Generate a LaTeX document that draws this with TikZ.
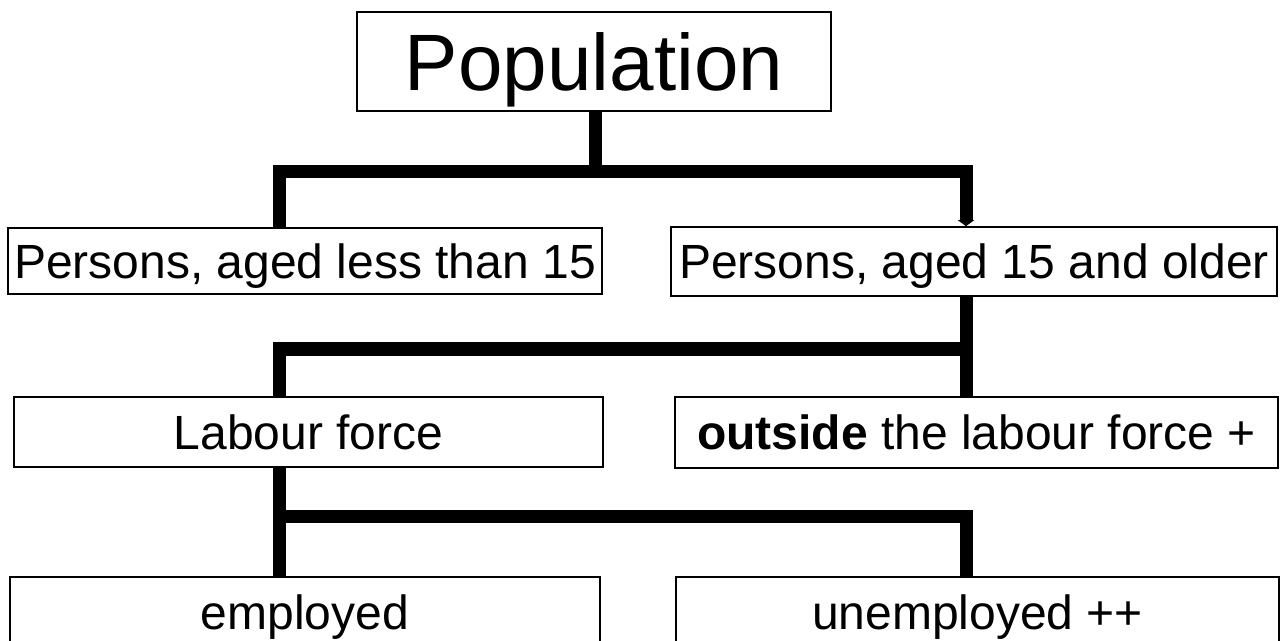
\documentclass[tikz,border=0pt]{standalone}
\usepackage{fontspec}
\setmainfont{Liberation Sans}
\usetikzlibrary{arrows.meta}

\begin{document}
\begin{tikzpicture}[x=0.75pt,y=0.75pt,yscale=-1,xscale=1,
  box/.style={draw,line width=1.2pt,inner sep=0pt,text depth=0pt,font=\fontsize{36}{40}\selectfont},
  tree/.style={line width=9.75pt}]
\useasboundingbox (0,0) rectangle (1284,641);

%Shape: Rectangle [id:pop]
\node [box,minimum width=355.5pt,minimum height=74.25pt,font=\fontsize{60}{66}\selectfont] (pop) at (594,61.5) {Population};
%Shape: Rectangle [id:young]
\node [box,minimum width=445.5pt,minimum height=49.5pt] (young) at (305,261) {Persons, aged less than 15};
%Shape: Rectangle [id:old]
\node [box,minimum width=454.5pt,minimum height=51.75pt] (old) at (974,261.5) {Persons, aged 15 and older};
%Shape: Rectangle [id:labour]
\node [box,minimum width=441.75pt,minimum height=52.5pt] (labour) at (308.5,432) {Labour force};
%Shape: Rectangle [id:outside]
\node [box,minimum width=452.25pt,minimum height=53.25pt] (outside) at (976.5,432.5) {\bfseries outside\mdseries{} the labour force +};
%Shape: Rectangle [id:employed]
\node [box,minimum width=442.5pt,minimum height=52.5pt] (employed) at (305,612) {employed};
%Shape: Rectangle [id:unemployed]
\node [box,minimum width=452.25pt,minimum height=52.5pt] (unemployed) at (977.5,612) {unemployed ++};

% junctions of the tree
\coordinate (j1) at (595,172);
\coordinate (j2) at (966,349);
\coordinate (j3) at (279,516);

%Straight Lines [id:split1]
\draw [tree] (pop.south -| j1) -- (j1);
\draw [tree,-{Triangle[width=12pt,length=4.5pt]}] (young.north -| j3) |- (j1) -| (old.north -| j2);
%Straight Lines [id:split2]
\draw [tree] (old.south -| j2) -- (outside.north -| j2);
\draw [tree] (j2) -| (labour.north -| j3);
%Straight Lines [id:split3]
\draw [tree] (labour.south -| j3) -- (employed.north -| j3);
\draw [tree] (j3) -| (unemployed.north -| j2);

\end{tikzpicture}
\end{document}
